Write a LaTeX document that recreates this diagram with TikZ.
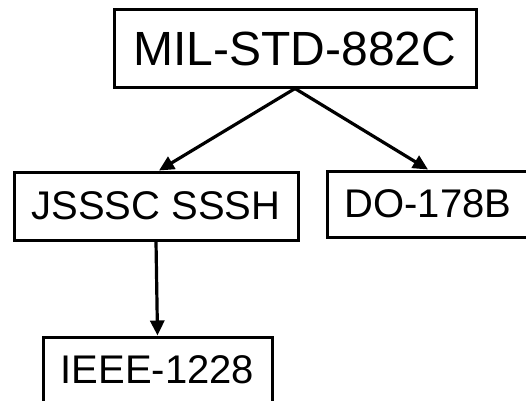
\documentclass[tikz,border=0pt]{standalone}
\usepackage{fontspec}
\setmainfont{Liberation Sans}
\usetikzlibrary{arrows.meta}
\begin{document}
\begin{tikzpicture}[x=1pt,y=1pt,
  stdbox/.style={draw=black, line width=3pt, fill=white, inner sep=0pt, font=\fontsize{40}{48}\selectfont},
  conn/.style={line width=3.2pt, -{Triangle[length=15pt,width=14pt]}}]
\useasboundingbox (0,0) rectangle (526,400);
\clip (0,0) rectangle (526,400);
\node[stdbox, minimum width=362pt, minimum height=77pt, font=\fontsize{48}{56}\selectfont] (mil) at (295,351.5) {MIL-STD-882C};
\node[stdbox, minimum width=284pt, minimum height=68pt] (js) at (156,194) {JSSSC SSSH};
\node[stdbox, minimum width=202pt, minimum height=66pt] (do) at (428,196) {DO-178B};
\node[stdbox, minimum width=229pt, minimum height=65pt] (ieee) at (157.5,30.5) {IEEE-1228};
\draw[conn] (mil.south) -- ([xshift=3pt]js.north);
\draw[conn] (mil.south) -- (do.north);
\draw[conn] (js.south) -- (ieee.north);
\end{tikzpicture}
\end{document}
